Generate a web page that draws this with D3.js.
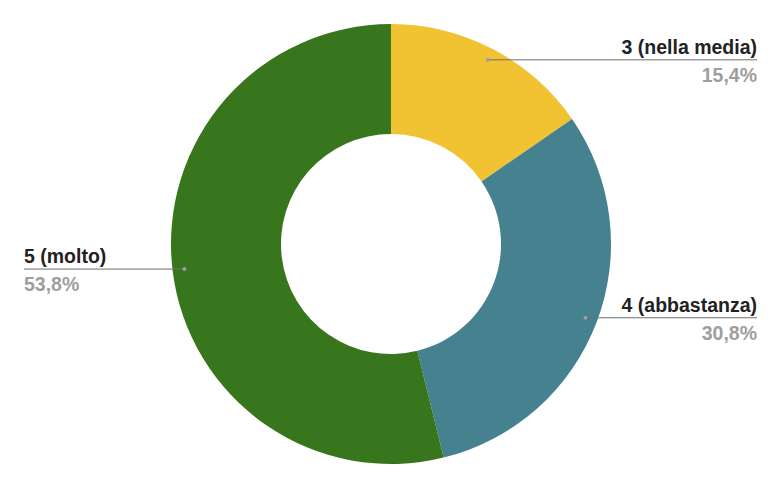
<!DOCTYPE html>
<html><head><meta charset="utf-8">
<script src="https://cdn.jsdelivr.net/npm/d3@7"></script>
<style>body{margin:0;background:#fff}svg{display:block}</style>
</head><body>
<svg id="chart" width="782" height="488"></svg>
<script>
const categories = ["3 (nella media)", "4 (abbastanza)", "5 (molto)"];
const values = [2, 4, 7];
const colors = ["#f1c232", "#45818e", "#38761d"];

const W = 782, H = 488, cx = 391, cy = 244, rOuter = 220, rInner = 110, rDot = 208;
const svg = d3.select("#chart");
const g = svg.append("g").attr("transform", `translate(${cx},${cy})`);
const data = categories.map((c, i) => ({cat: c, value: values[i], color: colors[i]}));
const total = d3.sum(values);
const pie = d3.pie().value(d => d.value).sort(null);
const arc = d3.arc().innerRadius(rInner).outerRadius(rOuter);
const arcs = pie(data);
g.selectAll("path.slice").data(arcs).join("path")
  .attr("class", "slice").attr("d", arc).attr("fill", d => d.data.color);

const fmt = v => (v / total * 100).toFixed(1).replace(".", ",") + "%";
const font = "'Liberation Sans', Arial, sans-serif";
arcs.forEach(a => {
  const mid = (a.startAngle + a.endAngle) / 2;
  const px = cx + rDot * Math.sin(mid), py = cy - rDot * Math.cos(mid);
  const right = Math.sin(mid) >= 0;
  const xEnd = right ? 757 : 24;
  svg.append("line").attr("x1", px).attr("y1", py).attr("x2", xEnd).attr("y2", py)
    .attr("stroke", "#6f6f6f").attr("stroke-width", 1);
  svg.append("circle").attr("cx", px).attr("cy", py).attr("r", 2).attr("fill", "#9e9e9e");
  svg.append("text").attr("x", xEnd).attr("y", py - 6)
    .attr("text-anchor", right ? "end" : "start")
    .attr("font-family", font).attr("font-weight", "bold").attr("font-size", 19.5)
    .attr("fill", "#222").text(a.data.cat);
  svg.append("text").attr("x", xEnd).attr("y", py + 22)
    .attr("text-anchor", right ? "end" : "start")
    .attr("font-family", font).attr("font-weight", "bold").attr("font-size", 19.5)
    .attr("fill", "#9e9e9e").text(fmt(a.data.value));
});
</script>
</body></html>
